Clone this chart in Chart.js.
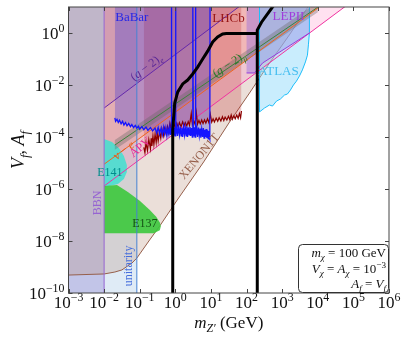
<!DOCTYPE html>
<html>
<head>
<meta charset="utf-8">
<script src="https://cdn.jsdelivr.net/npm/chart.js@4.4.1/dist/chart.umd.min.js"></script>
<style>
  html, body { margin: 0; padding: 0; background: #fff; }
  canvas { display: block; }
</style>
</head>
<body>
<canvas id="c" width="408" height="339"></canvas>
<script>
// ---- data (mass in GeV, coupling V_f = A_f) ----
const bbnMass = [1e-3, 1e-2, 1e-2, 1e-3];
const bbnV = [1e-11, 1e-11, 100, 100];
const unitMass = [1e-3, 0.083, 0.083, 1e-3];
const unitV = [1e-11, 1e-11, 100, 100];

const xenonMass = [1e-3, 0.01, 0.02, 0.0316, 0.046, 0.06, 0.083, 0.12, 0.19, 0.366, 1.09, 6.25, 33.4, 121, 441, 1590, 5100, 7000];
const xenonV = [4.9e-10, 5.4e-10, 6.4e-10, 7.7e-10, 1.1e-9, 1.4e-9, 2.2e-9, 4.5e-9, 1.1e-8, 3.8e-8, 3.5e-7, 1.1e-5, 3.8e-4, 4.9e-3, 0.07, 0.84, 9.2, 20];

const e141Mass = [0.01, 0.0166, 0.026, 0.0359, 0.0435, 0.0435, 0.0359, 0.0244, 0.01455, 0.01];
const e141V = [8.4e-5, 6.4e-5, 3.8e-5, 1.86e-5, 8.4e-6, 4.5e-6, 2.4e-6, 1.56e-6, 1.3e-6, 1.19e-6];

const e137Mass = [0.01, 0.0229, 0.0464, 0.1, 0.192, 0.29, 0.37, 0.39, 0.366, 0.248, 0.01];
const e137V = [1.3e-6, 1.43e-6, 7.7e-7, 3.5e-7, 1.56e-7, 8.5e-8, 5e-8, 3.6e-8, 2.6e-8, 2.0e-8, 2.0e-8];

const nueMass = [0.01, 1e4];
const nueV = [9e-6, 9];
const apvMass = [0.01, 1e5];
const apvV = [1.3e-6, 18];
const g2eMass = [0.01, 100];
const g2eV = [1.3e-3, 17];
const g2muMass = [0.02, 1e4];
const g2muV = [4.9e-5, 9.8];
const g2muBandMass = [0.02, 1e4, 1e4, 0.02];
const g2muBandV = [7.6e-5, 15.2, 6.3, 3.2e-5];

const babarMass = [0.02, 0.021, 0.023, 0.025, 0.027, 0.03, 0.033, 0.036, 0.04, 0.044, 0.049, 0.055, 0.06, 0.067, 0.075, 0.083, 0.092, 0.1, 0.115, 0.13, 0.15, 0.17, 0.2, 0.23, 0.27, 0.3, 0.33, 0.36, 0.4, 0.43, 0.47, 0.5, 0.54, 0.58, 0.62, 0.66, 0.7, 0.73, 0.77, 0.775, 0.785, 0.79, 0.83, 0.86, 0.9, 0.93, 0.97, 1.0, 1.015, 1.025, 1.04, 1.1, 1.15, 1.22, 1.3, 1.37, 1.45, 1.53, 1.6, 1.7, 1.8, 1.9, 2.0, 2.1, 2.2, 2.33, 2.45, 2.58, 2.7, 2.85, 3.0, 3.09, 3.11, 3.2, 3.3, 3.4, 3.5, 3.6, 3.68, 3.7, 3.8, 4.0, 4.2, 4.45, 4.7, 4.95, 5.2, 5.5, 5.8, 6.1, 6.4, 6.7, 7.0, 7.35, 7.7, 8.05, 8.4, 8.7, 9.0, 9.2, 9.4, 9.44, 9.6];
const babarV = [5.4e-4, 4.0e-4, 4.8e-4, 3.6e-4, 4.4e-4, 3.2e-4, 4.0e-4, 2.9e-4, 3.6e-4, 2.7e-4, 3.3e-4, 2.5e-4, 3.0e-4, 2.3e-4, 2.8e-4, 2.2e-4, 2.6e-4, 2.0e-4, 2.5e-4, 1.9e-4, 2.4e-4, 1.8e-4, 2.3e-4, 1.7e-4, 2.2e-4, 1.4e-4, 2.3e-4, 1.3e-4, 2.2e-4, 1.2e-4, 2.4e-4, 1.3e-4, 2.3e-4, 1.1e-4, 2.2e-4, 1.3e-4, 2.5e-4, 1.2e-4, 2.2e-4, 10, 10, 1.3e-4, 2.3e-4, 1.1e-4, 2.4e-4, 1.2e-4, 2.2e-4, 1.1e-4, 10, 10, 1.2e-4, 2.4e-4, 1.1e-4, 2.3e-4, 1.2e-4, 2.5e-4, 1.1e-4, 2.2e-4, 1.0e-4, 2.4e-4, 1.2e-4, 2.3e-4, 1.1e-4, 2.5e-4, 1.0e-4, 2.3e-4, 1.2e-4, 2.4e-4, 1.1e-4, 2.2e-4, 1.0e-4, 10, 10, 1.2e-4, 2.4e-4, 1.1e-4, 2.3e-4, 1.0e-4, 10, 10, 1.1e-4, 2.2e-4, 1.0e-4, 2.3e-4, 1.1e-4, 2.1e-4, 0.95e-4, 2.0e-4, 1.0e-4, 2.2e-4, 0.9e-4, 1.9e-4, 1.0e-4, 2.0e-4, 0.9e-4, 1.8e-4, 0.85e-4, 1.7e-4, 0.9e-4, 1.5e-4, 0.8e-4, 10, 10];

const lhcbMass = [0.13, 0.14, 0.15, 0.165, 0.18, 0.2, 0.21, 0.22, 0.235, 0.25, 0.27, 0.29, 0.31, 0.33, 0.36, 0.39, 0.42, 0.46, 0.5, 0.55, 0.6, 0.65, 0.7, 0.75, 0.8, 0.85, 0.92, 1.0, 1.1, 1.2, 1.3, 1.45, 1.6, 1.75, 1.9, 2.1, 2.3, 2.5, 2.8, 3.0, 3.3, 3.6, 3.9, 4.2, 4.6, 5.0, 5.5, 6.0, 6.6, 7.2, 8.0, 8.8, 9.6, 10.5, 11.5, 12.5, 14, 15.5, 17, 19, 21, 23, 25, 28, 31, 34, 37, 40, 44, 48, 53, 58, 63, 68, 72];
const lhcbV = [4e-5, 2.5e-5, 6e-5, 3e-5, 8e-5, 3.5e-5, 9e-5, 4.5e-5, 1.1e-4, 5e-5, 1.3e-4, 6e-5, 1.5e-4, 7e-5, 1.6e-4, 9e-5, 2e-4, 1.1e-4, 2.2e-4, 1.3e-4, 2.5e-4, 1.5e-4, 3.2e-4, 1.8e-4, 6e-4, 2.2e-4, 3.2e-4, 2.2e-4, 3.4e-4, 2.4e-4, 3.6e-4, 2.5e-4, 3.8e-4, 2.7e-4, 3.6e-4, 2.7e-4, 3.9e-4, 2.8e-4, 8e-4, 3e-4, 4.2e-4, 3e-4, 8.5e-4, 3.1e-4, 4.3e-4, 3.2e-4, 4.5e-4, 3.3e-4, 4.6e-4, 3.4e-4, 5e-4, 3.5e-4, 7.5e-4, 3.7e-4, 5e-4, 3.8e-4, 5.3e-4, 4e-4, 5.5e-4, 4.1e-4, 6e-4, 4.3e-4, 5.8e-4, 4.5e-4, 6.3e-4, 4.6e-4, 7e-4, 4.8e-4, 6.5e-4, 5e-4, 7e-4, 5.2e-4, 8e-4, 5.5e-4, 1e-3];

const lepMass = [100, 100, 167, 281, 5820, 5820];
const lepV = [20, 0.029, 0.029, 0.07, 1.0, 20];
const lepEdgeMass = [100, 167, 281, 5820];
const lepEdgeV = [0.029, 0.029, 0.07, 1.0];

const atlasMass = [231, 231, 319, 441, 535, 692, 896, 1160, 1405, 1706, 2074, 2510, 3054, 3700, 4500, 5120, 5460, 5820, 5820];
const atlasV = [20, 9.2e-4, 1.3e-3, 1.7e-3, 1.55e-3, 2.4e-3, 2.9e-3, 4.1e-3, 4.5e-3, 6.4e-3, 1e-2, 1.4e-2, 2.2e-2, 3.8e-2, 7.7e-2, 0.14, 0.35, 1.0, 20];

const relicMass = [0.845, 0.845, 0.96, 1.17, 1.61, 2.22, 3.07, 4.24, 5.86, 8.1, 11.2, 15.4, 21.3, 27, 200];
const relicV = [1e-11, 1.86e-4, 2e-3, 5.4e-3, 1.1e-2, 1.55e-2, 2.65e-2, 4.9e-2, 0.1, 0.2, 0.45, 0.7, 0.92, 0.96, 0.96];
const relic2Mass = [200, 200, 263, 535, 600];
const relic2V = [1e-11, 1.3, 2.6, 10, 12];

const xTickExp = [-3, -2, -1, 0, 1, 2, 3, 4, 5, 6];
const yTickExp = [0, -2, -4, -6, -8, -10];

const pts = (xs, ys) => xs.map((x, i) => ({ x: x, y: ys[i] }));

function layer(xs, ys, o) {
    return Object.assign({
        data: pts(xs, ys),
        showLine: true,
        pointRadius: 0,
        borderWidth: 0,
        borderColor: 'rgba(0,0,0,0)',
        backgroundColor: 'rgba(0,0,0,0)',
        fill: false,
        tension: 0,
        clip: 0
    }, o);
}

// bottom to top
const layers = [
    layer(unitMass, unitV, { fill: 'shape', backgroundColor: 'rgba(150,190,225,0.3)' }),
    layer(bbnMass, bbnV, { fill: 'shape', backgroundColor: 'rgba(130,110,200,0.3)' }),
    layer(xenonMass, xenonV, { fill: 'end', backgroundColor: 'rgba(190,150,130,0.3)', borderColor: 'rgb(150,95,75)', borderWidth: 1 }),
    layer(nueMass, nueV, { fill: 'end', backgroundColor: 'rgba(250,130,70,0.22)' }),
    layer(apvMass, apvV, { fill: 'end', backgroundColor: 'rgba(255,105,180,0.2)' }),
    layer(g2eMass, g2eV, { fill: 'end', backgroundColor: 'rgba(110,50,170,0.13)' }),
    layer(lhcbMass, lhcbV, { fill: 'end', backgroundColor: 'rgba(190,40,40,0.25)' }),
    layer(babarMass, babarV, { fill: 'end', backgroundColor: 'rgba(40,40,220,0.28)' }),
    layer(lepMass, lepV, { fill: 'shape', backgroundColor: 'rgba(130,90,230,0.35)' }),
    layer(atlasMass, atlasV, { fill: 'shape', backgroundColor: 'rgba(135,215,250,0.45)', borderColor: 'rgb(30,190,250)', borderWidth: 1 }),
    layer(e141Mass, e141V, { fill: 'shape', backgroundColor: 'rgba(64,224,208,0.85)' }),
    layer(e137Mass, e137V, { fill: 'shape', backgroundColor: 'rgba(60,200,60,0.9)' }),
    layer(g2muBandMass, g2muBandV, { fill: 'shape', backgroundColor: 'rgba(100,100,100,0.35)' }),
    layer(g2muMass, g2muV, { borderColor: 'rgb(60,130,60)', borderWidth: 1 }),
    layer(nueMass, nueV, { borderColor: 'rgb(240,100,30)', borderWidth: 1 }),
    layer(apvMass, apvV, { borderColor: 'rgb(240,50,160)', borderWidth: 1 }),
    layer(g2eMass, g2eV, { borderColor: 'rgb(100,40,170)', borderWidth: 1 }),
    layer(lepEdgeMass, lepEdgeV, { borderColor: 'rgb(150,60,220)', borderWidth: 1 }),
    layer([0.01, 0.01], [1e-11, 100], { borderColor: 'rgb(150,100,210)', borderWidth: 1 }),
    layer([0.083, 0.083], [1e-11, 100], { borderColor: 'rgb(70,130,210)', borderWidth: 1 }),
    layer(lhcbMass, lhcbV, { borderColor: 'rgb(140,0,0)', borderWidth: 1.2 }),
    layer(babarMass, babarV, { borderColor: 'rgb(20,20,255)', borderWidth: 1.3 }),
    layer(relicMass, relicV, { borderColor: '#000', borderWidth: 3 }),
    layer(relic2Mass, relic2V, { borderColor: '#000', borderWidth: 3 })
];
layers.forEach((d, i) => { d.order = layers.length - i; });

const serif = '"Liberation Serif", "DejaVu Serif", serif';

// text labels on the plot: parts = [text, kind]
const notes = [
    { parts: [['BaBar', 'n']], x: 0.06, y: 4.5, c: 'rgb(40,40,230)', r: 0, s: 13 },
    { parts: [['LHCb', 'n']], x: 31, y: 4.1, c: 'rgb(150,20,20)', r: 0, s: 13 },
    { parts: [['LEPII', 'n']], x: 1500, y: 4.9, c: 'rgb(160,60,220)', r: 0, s: 13 },
    { parts: [['ATLAS', 'n']], x: 787, y: 0.035, c: 'rgb(70,190,240)', r: 0, s: 13 },
    { parts: [['(', 'n'], ['g', 'i'], [' − 2)', 'n'], ['e', 'isub']], x: 0.15, y: 0.05, c: 'rgb(90,40,150)', r: -37, s: 12 },
    { parts: [['(', 'n'], ['g', 'i'], [' − 2)', 'n'], ['μ', 'isub']], x: 32, y: 0.065, c: 'rgb(40,120,40)', r: -33, s: 12 },
    { parts: [['ν', 'i'], [' − ', 'n'], ['e', 'i']], x: 0.035, y: 3.2e-5, c: 'rgb(230,90,20)', r: -37, s: 12 },
    { parts: [['APV', 'n']], x: 0.1, y: 4.2e-5, c: 'rgb(230,40,150)', r: -40, s: 12 },
    { parts: [['E141', 'n']], x: 0.0145, y: 4.5e-6, c: 'rgb(0,140,140)', r: 0, s: 12 },
    { parts: [['E137', 'n']], x: 0.139, y: 4.9e-8, c: 'rgb(20,80,20)', r: 0, s: 12 },
    { parts: [['XENON1T', 'n']], x: 4.5, y: 1.86e-5, c: 'rgb(150,95,75)', r: -50, s: 12 },
    { parts: [['BBN', 'n']], x: 0.0063, y: 2.9e-7, c: 'rgb(150,100,210)', r: -90, s: 12 },
    { parts: [['unitarity', 'n']], x: 0.046, y: 1.1e-9, c: 'rgb(70,110,220)', r: -90, s: 12 }
];

function fontFor(kind, size) {
    const small = kind === 'sub' || kind === 'isub' || kind === 'sup';
    const it = (kind === 'i' || kind === 'isub') ? 'italic ' : '';
    return it + (small ? size * 0.7 : size) + 'px ' + serif;
}

function richText(ctx, parts, x, y, align, size) {
    let w = 0;
    parts.forEach(([t, k]) => { ctx.font = fontFor(k, size); w += ctx.measureText(t).width; });
    let cx = align === 'right' ? x - w : align === 'center' ? x - w / 2 : x;
    ctx.textAlign = 'left';
    ctx.textBaseline = 'alphabetic';
    parts.forEach(([t, k]) => {
        ctx.font = fontFor(k, size);
        let dy = 0;
        if (k === 'sub' || k === 'isub') dy = size * 0.25;
        if (k === 'sup') dy = -size * 0.42;
        ctx.fillText(t, cx, y + dy);
        cx += ctx.measureText(t).width;
    });
}

const sup = e => (e < 0 ? '−' : '') + Math.abs(e);

const overlay = {
    id: 'overlay',
    beforeDraw(chart) {
        const ctx = chart.ctx;
        ctx.save();
        ctx.fillStyle = '#fff';
        ctx.fillRect(0, 0, chart.width, chart.height);
        ctx.restore();
    },
    afterDatasetsDraw(chart) {
        const ctx = chart.ctx;
        const a = chart.chartArea;
        const xs = chart.scales.x, ys = chart.scales.y;
        ctx.save();

        // annotations
        notes.forEach(n => {
            ctx.save();
            ctx.fillStyle = n.c;
            ctx.translate(xs.getPixelForValue(n.x), ys.getPixelForValue(n.y));
            ctx.rotate(n.r * Math.PI / 180);
            richText(ctx, n.parts, 0, n.s * 0.35, 'center', n.s);
            ctx.restore();
        });

        // frame
        ctx.strokeStyle = '#444';
        ctx.lineWidth = 1;
        ctx.strokeRect(a.left, a.top, a.right - a.left, a.bottom - a.top);

        // inward ticks
        ctx.beginPath();
        xTickExp.forEach(e => {
            const p = Math.round(xs.getPixelForValue(Math.pow(10, e))) + 0.5;
            ctx.moveTo(p, a.bottom); ctx.lineTo(p, a.bottom - 4);
            ctx.moveTo(p, a.top); ctx.lineTo(p, a.top + 4);
        });
        yTickExp.forEach(e => {
            const p = Math.round(ys.getPixelForValue(Math.pow(10, e))) + 0.5;
            ctx.moveTo(a.left, p); ctx.lineTo(a.left + 4, p);
            ctx.moveTo(a.right, p); ctx.lineTo(a.right - 4, p);
        });
        ctx.stroke();

        // tick labels
        ctx.fillStyle = '#111';
        xTickExp.forEach(e => {
            const p = xs.getPixelForValue(Math.pow(10, e));
            richText(ctx, [['10', 'n'], [sup(e), 'sup']], p, a.bottom + 15, 'center', 17);
        });
        yTickExp.forEach(e => {
            const p = ys.getPixelForValue(Math.pow(10, e));
            richText(ctx, [['10', 'n'], [sup(e), 'sup']], a.left - 4, p + 6, 'right', 17);
        });

        // axis titles
        richText(ctx, [['m', 'i'], ['Z′', 'isub'], [' (GeV)', 'n']], (a.left + a.right) / 2, a.bottom + 35, 'center', 17);
        ctx.save();
        ctx.translate(24, (a.top + a.bottom) / 2);
        ctx.rotate(-Math.PI / 2);
        richText(ctx, [['V', 'i'], ['f', 'isub'], [', ', 'n'], ['A', 'i'], ['f', 'isub']], 0, 0, 'center', 18);
        ctx.restore();

        // info box
        const bx = a.right - 91, by = a.bottom - 49;
        ctx.beginPath();
        ctx.roundRect(bx + 0.5, by + 0.5, 90, 48, 4);
        ctx.fillStyle = '#fff';
        ctx.fill();
        ctx.strokeStyle = '#333';
        ctx.stroke();
        ctx.fillStyle = '#111';
        richText(ctx, [['m', 'i'], ['χ', 'isub'], [' = 100 GeV', 'n']], a.right - 3, by + 13, 'right', 13);
        richText(ctx, [['V', 'i'], ['χ', 'isub'], [' = ', 'n'], ['A', 'i'], ['χ', 'isub'], [' = 10', 'n'], ['−3', 'sup']], a.right - 3, by + 29, 'right', 13);
        richText(ctx, [['A', 'i'], ['f', 'isub'], [' = ', 'n'], ['V', 'i'], ['f', 'isub']], a.right - 3, by + 44, 'right', 13);

        ctx.restore();
    }
};

new Chart(document.getElementById('c'), {
    type: 'scatter',
    data: { datasets: layers },
    options: {
        responsive: false,
        animation: false,
        events: [],
        layout: { padding: { left: 0, right: 19, top: 7, bottom: 0 } },
        plugins: { legend: { display: false }, tooltip: { enabled: false } },
        scales: {
            x: {
                type: 'logarithmic', min: 1e-3, max: 1e6,
                grid: { display: false }, border: { display: false },
                ticks: { display: false },
                afterFit: s => { s.height = 46; }
            },
            y: {
                type: 'logarithmic', min: 1e-10, max: 10,
                grid: { display: false }, border: { display: false },
                ticks: { display: false },
                afterFit: s => { s.width = 68.5; }
            }
        }
    },
    plugins: [overlay]
});
</script>
</body>
</html>
